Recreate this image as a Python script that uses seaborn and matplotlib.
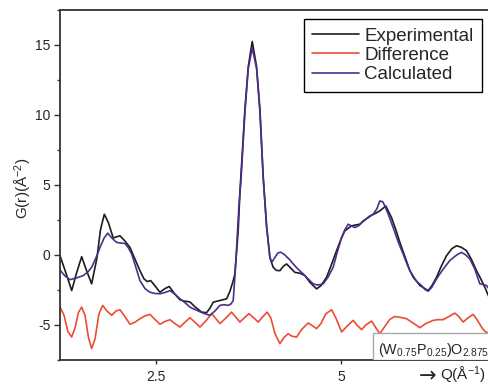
import numpy as np
import pandas as pd
import matplotlib.pyplot as plt
from matplotlib.patches import Rectangle
from matplotlib.ticker import MultipleLocator, FixedLocator, FixedFormatter
import seaborn as sns

# Q values (1/A) and G(r) values
q_exp = [1.200, 1.281, 1.358, 1.423, 1.493, 1.558, 1.628, 1.700, 1.747, 1.799,
         1.855, 1.920, 1.964, 2.011, 2.078, 2.146, 2.214, 2.281, 2.335, 2.380,
         2.426, 2.484, 2.551, 2.619, 2.677, 2.754, 2.822, 2.889, 2.957, 3.024,
         3.115, 3.182, 3.227, 3.272, 3.362, 3.453, 3.497, 3.542, 3.565, 3.609,
         3.632, 3.700, 3.745, 3.799, 3.858, 3.903, 3.947, 3.993, 4.038, 4.082,
         4.126, 4.173, 4.220, 4.264, 4.322, 4.376, 4.443, 4.511, 4.578, 4.669,
         4.727, 4.804, 4.869, 4.939, 4.997, 5.051, 5.142, 5.200, 5.254, 5.322,
         5.389, 5.457, 5.524, 5.605, 5.682, 5.741, 5.795, 5.862, 5.930, 5.997,
         6.065, 6.177, 6.227, 6.291, 6.355, 6.426, 6.497, 6.561, 6.626, 6.696,
         6.761, 6.831, 6.889, 6.943, 7.000]
g_exp = [-0.05, -1.3, -2.54, -1.3, -0.12, -1.1, -2.06, -0.2, 1.8, 2.91,
         2.3, 1.21, 1.3, 1.37, 1.0, 0.54, -0.3, -1.12, -1.7, -1.9,
         -1.83, -2.2, -2.66, -2.4, -2.25, -2.8, -3.2, -3.3, -3.35, -3.7,
         -4.08, -4.12, -3.8, -3.37, -3.25, -3.13, -2.6, -1.83, -1.33, 1.7,
         4.45, 10.4, 13.45, 15.25, 13.45, 10.4, 5.64, 2.08, -0.2, -0.88,
         -1.1, -1.12, -0.8, -0.64, -0.95, -1.24, -1.3, -1.47, -1.95, -2.42,
         -2.2, -1.59, -0.7, 0.31, 1.1, 1.73, 2.08, 2.15, 2.2, 2.5,
         2.79, 2.95, 3.15, 3.5, 2.67, 1.8, 0.9, -0.1, -1.12, -1.7,
         -2.18, -2.54, -2.2, -1.59, -0.8, -0.05, 0.45, 0.66, 0.55, 0.31,
         -0.3, -1.12, -1.7, -2.3, -3.0]

q_calc = [1.200, 1.268, 1.335, 1.416, 1.515, 1.578, 1.628, 1.686, 1.741, 1.795,
          1.845, 1.903, 1.966, 2.024, 2.078, 2.126, 2.169, 2.227, 2.281, 2.349,
          2.416, 2.484, 2.551, 2.619, 2.686, 2.754, 2.822, 2.889, 2.957, 3.001,
          3.092, 3.159, 3.227, 3.295, 3.362, 3.416, 3.474, 3.511, 3.542, 3.565,
          3.588, 3.619, 3.646, 3.700, 3.745, 3.799, 3.858, 3.903, 3.947, 3.993,
          4.038, 4.065, 4.146, 4.186, 4.241, 4.308, 4.353, 4.416, 4.488, 4.578,
          4.623, 4.686, 4.758, 4.822, 4.893, 4.943, 5.007, 5.051, 5.096, 5.132,
          5.186, 5.241, 5.299, 5.362, 5.434, 5.484, 5.524, 5.565, 5.592, 5.646,
          5.704, 5.768, 5.839, 5.903, 5.974, 6.024, 6.088, 6.132, 6.177, 6.227,
          6.281, 6.335, 6.403, 6.470, 6.538, 6.578, 6.628, 6.686, 6.741, 6.808,
          6.876, 6.916, 6.966, 7.000]
g_calc = [-1.07, -1.5, -1.76, -1.65, -1.47, -1.2, -0.88, -0.2, 0.54, 1.2,
          1.56, 1.2, 0.9, 0.85, 0.83, 0.5, 0.07, -0.9, -1.83, -2.4,
          -2.66, -2.75, -2.77, -2.68, -2.54, -2.8, -3.13, -3.4, -3.72, -3.84,
          -4.05, -4.2, -4.31, -4.0, -3.6, -3.55, -3.6, -3.5, -3.25, -1.5,
          0.54, 3.5, 5.28, 10.2, 13.3, 14.8, 13.3, 10.2, 5.5, 2.0,
          -0.17, -0.5, 0.15, 0.2, 0.0, -0.35, -0.64, -1.0, -1.35, -1.83,
          -2.06, -2.15, -2.06, -1.6, -0.88, 0.1, 1.25, 1.8, 2.2, 2.1,
          1.96, 2.1, 2.44, 2.65, 2.91, 3.3, 3.86, 3.8, 3.5, 2.8,
          1.96, 1.0, 0.07, -0.8, -1.59, -1.9, -2.18, -2.45, -2.59, -2.3,
          -1.8, -1.35, -0.85, -0.4, -0.1, 0.05, 0.19, 0.0, -0.28, -1.0,
          -2.06, -2.1, -2.18, -2.42]

q_diff = [1.200, 1.254, 1.308, 1.358, 1.403, 1.450, 1.493, 1.538, 1.585, 1.628,
          1.673, 1.727, 1.777, 1.835, 1.899, 1.957, 2.011, 2.078, 2.146, 2.214,
          2.281, 2.349, 2.416, 2.484, 2.551, 2.619, 2.686, 2.754, 2.822, 2.889,
          2.957, 3.024, 3.092, 3.173, 3.250, 3.308, 3.362, 3.443, 3.520, 3.578,
          3.632, 3.700, 3.754, 3.822, 3.880, 3.943, 4.001, 4.051, 4.105, 4.173,
          4.227, 4.285, 4.335, 4.399, 4.470, 4.555, 4.612, 4.669, 4.727, 4.795,
          4.872, 4.930, 5.007, 5.078, 5.164, 5.214, 5.277, 5.335, 5.412, 5.470,
          5.524, 5.592, 5.659, 5.727, 5.795, 5.885, 5.970, 6.065, 6.146, 6.245,
          6.308, 6.380, 6.457, 6.538, 6.592, 6.650, 6.714, 6.785, 6.835, 6.899,
          6.943, 7.000]
g_diff = [-3.72, -4.3, -5.5, -5.86, -5.2, -4.1, -3.72, -4.3, -5.9, -6.68,
          -6.0, -4.2, -3.6, -4.0, -4.31, -4.0, -3.91, -4.4, -4.95, -4.8,
          -4.55, -4.35, -4.24, -4.6, -4.95, -4.75, -4.62, -4.9, -5.15, -4.8,
          -4.48, -4.8, -5.15, -4.7, -4.19, -4.55, -4.9, -4.5, -4.08, -4.45,
          -4.79, -4.45, -4.19, -4.5, -4.79, -4.4, -4.08, -4.5, -5.6, -6.33,
          -5.9, -5.62, -5.8, -5.86, -5.3, -4.86, -5.05, -5.26, -4.9, -4.2,
          -3.91, -4.5, -5.5, -5.1, -4.67, -5.0, -5.33, -5.0, -4.72, -5.2,
          -5.62, -5.1, -4.6, -4.39, -4.45, -4.55, -4.85, -5.19, -4.9, -4.67,
          -4.62, -4.62, -4.4, -4.15, -4.4, -4.79, -4.5, -4.24, -4.6, -5.15,
          -5.45, -5.62]

series_names = ["Experimental", "Difference", "Calculated"]
series_colors = ["#1c1c1c", "#ee4b33", "#4f2d8f"]

sns.set_style("ticks")
plt.rcParams['font.family'] = ['Liberation Sans', 'DejaVu Sans']
plt.rcParams['mathtext.fontset'] = 'custom'
plt.rcParams['mathtext.rm'] = 'Liberation Sans'
plt.rcParams['mathtext.it'] = 'Liberation Sans:italic'
plt.rcParams['axes.unicode_minus'] = False

fig = plt.figure(figsize=(4.89, 3.85), dpi=100)
ax = fig.add_axes([60/489, 25/385, 429/489, 350/385])

sns.lineplot(x=q_exp, y=g_exp, ax=ax, color=series_colors[0], lw=1.2,
             sort=False, estimator=None, label=series_names[0])
sns.lineplot(x=q_diff, y=g_diff, ax=ax, color=series_colors[1], lw=1.2,
             sort=False, estimator=None, label=series_names[1])
sns.lineplot(x=q_calc, y=g_calc, ax=ax, color=series_colors[2], lw=1.2,
             sort=False, estimator=None, label=series_names[2])

ax.set_xlim(1.2, 7.0)
ax.set_ylim(-7.5, 17.5)

ax.xaxis.set_major_locator(FixedLocator([2.5, 5]))
ax.xaxis.set_major_formatter(FixedFormatter(["2.5", "5"]))
ax.yaxis.set_major_locator(MultipleLocator(5))
ax.yaxis.set_minor_locator(MultipleLocator(2.5))
ax.tick_params(axis='y', which='major', length=4.5, width=1, labelsize=10,
               pad=2.5, color='#333333')
ax.tick_params(axis='y', which='minor', length=2.5, width=1, color='#333333')
ax.tick_params(axis='x', which='major', length=3, width=1, labelsize=10,
               pad=4.5, color='#333333')

for side in ['left', 'bottom', 'top']:
    ax.spines[side].set_linewidth(1.3)
    ax.spines[side].set_color('#333333')
ax.spines['right'].set_visible(False)

ax.set_xlabel("")
ax.set_ylabel(r"G(r)(Å$^{\mathrm{-2}}$)", fontsize=11)
ax.yaxis.set_label_coords(-0.06, 0.49)

# x axis title sits at the lower right, arrow then Q(1/A)
fig.text(436/489, 1 - 376/385, "→", ha='right', va='center', fontsize=15,
         family=['DejaVu Sans'])
fig.text(486/489, 1 - 375/385, r"Q(Å$^{\mathrm{-1}}$)",
         ha='right', va='center', fontsize=11)

leg = ax.legend(loc='upper right', bbox_to_anchor=(0.984, 0.974),
                borderaxespad=0, fancybox=False, framealpha=1,
                edgecolor='black', fontsize=13.5, handlelength=2.5,
                handletextpad=0.3, labelspacing=0.12, borderpad=0.45)
leg.get_frame().set_linewidth(1.0)

ax.add_patch(Rectangle(((373.3 - 60)/429, 0), 0.5, (360 - 333.3)/350,
                       transform=ax.transAxes, facecolor='white',
                       edgecolor='#aaaaaa', lw=1, zorder=4))
ax.text((378 - 60)/429, 6/350, r"(W$_{0.75}$P$_{0.25}$)O$_{2.875}$",
        transform=ax.transAxes, ha='left', va='baseline', fontsize=10.4,
        zorder=5)

fig.savefig("out.png", dpi=100)
